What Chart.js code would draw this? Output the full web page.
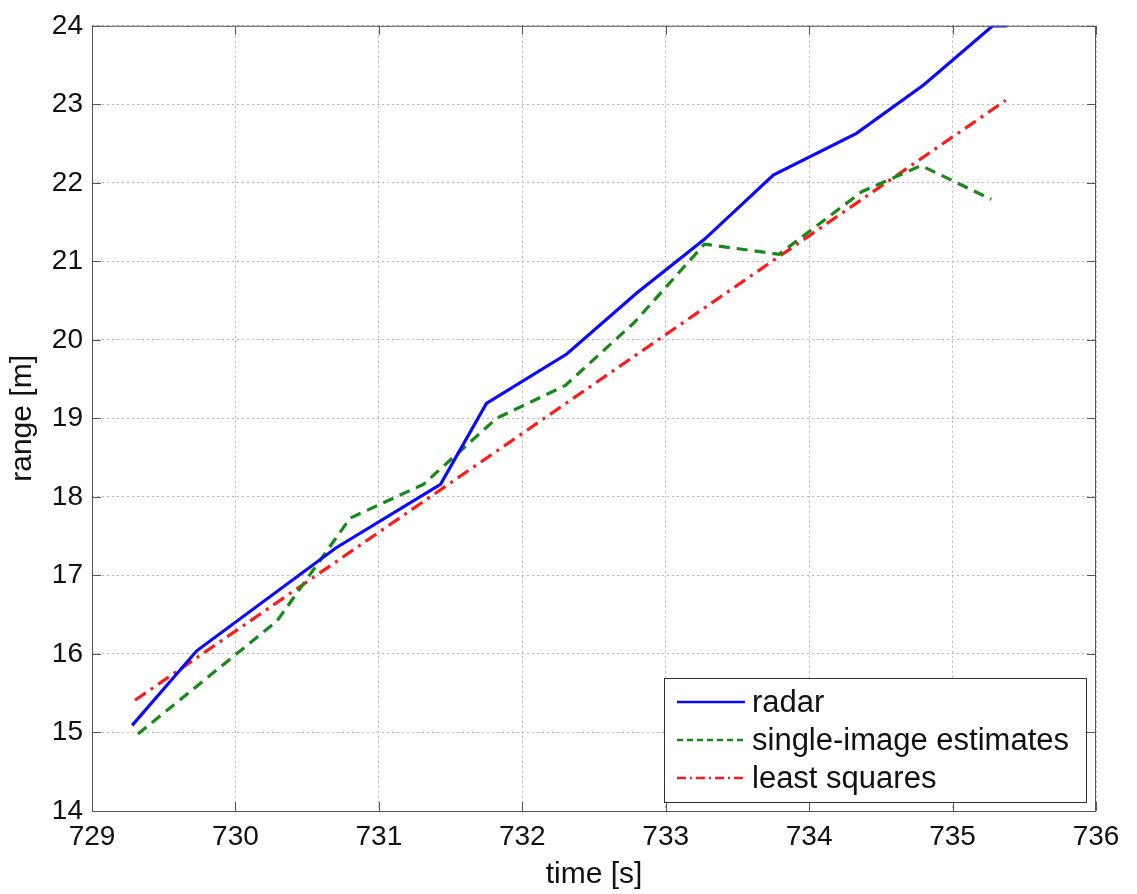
<!DOCTYPE html>
<html>
<head>
<meta charset="utf-8">
<title>range vs time</title>
<script src="https://cdn.jsdelivr.net/npm/chart.js@4.4.0/dist/chart.umd.min.js"></script>
<style>
  html, body { margin: 0; padding: 0; background: #fff; }
  #wrap { width: 1137px; height: 894px; }
</style>
</head>
<body>
<div id="wrap"><canvas id="rangeChart" width="1137" height="894"></canvas></div>
<script>
// --- 1. DATA ---
const radarTime  = [729.28, 729.73, 730.70, 731.43, 731.75, 732.31, 732.80, 733.27, 733.75, 734.33, 734.80, 735.28, 735.38];
const radarRange = [15.09, 16.04, 17.35, 18.16, 19.19, 19.82, 20.60, 21.28, 22.10, 22.63, 23.25, 24.00, 24.00];

const singleTime  = [729.32, 730.29, 730.80, 731.31, 731.82, 732.30, 732.78, 733.27, 733.79, 734.37, 734.78, 735.27];
const singleRange = [14.98, 16.42, 17.73, 18.16, 19.00, 19.42, 20.22, 21.22, 21.09, 21.89, 22.22, 21.79];

const lsTime  = [729.30, 735.37];
const lsRange = [15.41, 23.05];

const xTicks = [729, 730, 731, 732, 733, 734, 735, 736];
const yTicks = [14, 15, 16, 17, 18, 19, 20, 21, 22, 23, 24];

const seriesLabels = ['radar', 'single-image estimates', 'least squares'];

// --- 2. HELPERS ---
const FONT = "'Liberation Sans', Arial, Helvetica, sans-serif";

function toPoints(xs, ys) {
  return xs.map((x, i) => ({ x: x, y: ys[i] }));
}

// box around the axes, inward tick marks and the legend (MATLAB look)
const matlabFrame = {
  id: 'matlabFrame',
  afterDatasetsDraw(chart) {
    const { ctx, chartArea: a, scales } = chart;
    ctx.save();
    ctx.strokeStyle = '#555';
    ctx.lineWidth = 1;
    ctx.setLineDash([]);
    ctx.strokeRect(a.left + 0.5, a.top + 0.5, a.right - a.left - 1, a.bottom - a.top);

    // inward ticks
    const len = 9;
    ctx.beginPath();
    xTicks.forEach(v => {
      const px = Math.round(scales.x.getPixelForValue(v)) + 0.5;
      ctx.moveTo(px, a.bottom); ctx.lineTo(px, a.bottom - len);
      ctx.moveTo(px, a.top); ctx.lineTo(px, a.top + len);
    });
    yTicks.forEach(v => {
      const py = Math.round(scales.y.getPixelForValue(v)) + 0.5;
      ctx.moveTo(a.left, py); ctx.lineTo(a.left + len, py);
      ctx.moveTo(a.right, py); ctx.lineTo(a.right - len, py);
    });
    ctx.stroke();

    // legend box (bottom right, inside axes)
    const box = { x: 664, y: 678, w: 422, h: 124 };
    ctx.fillStyle = '#fff';
    ctx.fillRect(box.x, box.y, box.w, box.h);
    ctx.strokeStyle = '#333';
    ctx.strokeRect(box.x + 0.5, box.y + 0.5, box.w, box.h);

    const rows = [702, 740, 778];
    chart.data.datasets.forEach((ds, i) => {
      const y = rows[i];
      ctx.beginPath();
      ctx.strokeStyle = ds.borderColor;
      ctx.lineWidth = 2.5;
      ctx.setLineDash(ds.legendDash);
      ctx.moveTo(677, y);
      ctx.lineTo(745, y);
      ctx.stroke();
      ctx.setLineDash([]);
      ctx.fillStyle = '#111';
      ctx.font = '31px ' + FONT;
      ctx.textBaseline = 'middle';
      ctx.textAlign = 'left';
      ctx.fillText(ds.label, 752, y + 1);
    });
    ctx.restore();
  }
};

// --- 3. CHART ---
const ctx = document.getElementById('rangeChart');

new Chart(ctx, {
  type: 'line',
  data: {
    datasets: [
      {
        label: seriesLabels[0],
        data: toPoints(radarTime, radarRange),
        borderColor: '#0a0aff',
        borderWidth: 3.2,
        pointRadius: 0,
        tension: 0,
        legendDash: []
      },
      {
        label: seriesLabels[1],
        data: toPoints(singleTime, singleRange),
        borderColor: '#168a16',
        borderWidth: 3.2,
        borderDash: [11, 7],
        pointRadius: 0,
        tension: 0,
        legendDash: [6, 4]
      },
      {
        label: seriesLabels[2],
        data: toPoints(lsTime, lsRange),
        borderColor: '#ff1a1a',
        borderWidth: 3.2,
        borderDash: [13, 6, 3, 6],
        pointRadius: 0,
        tension: 0,
        legendDash: [9, 4, 2, 4]
      }
    ]
  },
  options: {
    responsive: false,
    animation: false,
    layout: { padding: { top: 22, right: 41, left: 0, bottom: 0 } },
    plugins: {
      legend: { display: false },
      tooltip: { enabled: false }
    },
    scales: {
      x: {
        type: 'linear',
        min: 729,
        max: 736,
        afterBuildTicks: scale => { scale.ticks = xTicks.map(v => ({ value: v })); },
        afterFit: scale => { scale.height = 83; },
        ticks: {
          color: '#111',
          font: { family: FONT, size: 28 },
          padding: 9,
          maxRotation: 0
        },
        grid: { color: '#b5b5b5', lineWidth: 1, drawTicks: false },
        border: { display: false, dash: [2, 3] },
        title: {
          display: true,
          text: 'time [s]',
          color: '#111',
          font: { family: FONT, size: 30 },
          padding: { top: 0, bottom: 1 }
        }
      },
      y: {
        type: 'linear',
        min: 14,
        max: 24,
        afterBuildTicks: scale => { scale.ticks = yTicks.map(v => ({ value: v })); },
        afterFit: scale => { scale.width = 92; },
        ticks: {
          color: '#111',
          font: { family: FONT, size: 28 },
          padding: 9
        },
        grid: { color: '#b5b5b5', lineWidth: 1, drawTicks: false },
        border: { display: false, dash: [2, 3] },
        title: {
          display: true,
          text: 'range [m]',
          color: '#111',
          font: { family: FONT, size: 30 },
          padding: { top: 5, bottom: 0 }
        }
      }
    }
  },
  plugins: [matlabFrame]
});
</script>
</body>
</html>
